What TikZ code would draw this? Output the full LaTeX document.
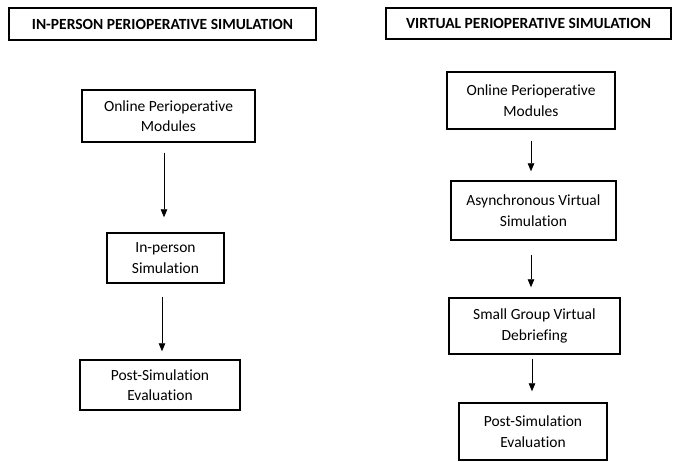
\documentclass[tikz,border=0pt]{standalone}
\usepackage{fontspec}
\setmainfont[Ligatures=NoCommon]{Carlito}
\usetikzlibrary{arrows.meta}
\begin{document}
\begin{tikzpicture}[x=1pt,y=-1pt,
  box/.style={draw, line width=1.4pt, inner sep=0pt, align=center,
    font=\fontsize{15.5}{20.5}\selectfont},
  titlebox/.style={box, font=\fontsize{15.5}{20}\selectfont\bfseries},
  arr/.style={line width=0.8pt, -{Triangle[width=6.5pt,length=8pt]}}]
\useasboundingbox (0,0) rectangle (673,462);
% left column
\node[titlebox, minimum width=307pt, minimum height=32pt] (T1) at (162.5,24) {IN-PERSON PERIOPERATIVE SIMULATION};
\node[box, minimum width=173pt, minimum height=52pt] (L1) at (168.5,116) {Online Perioperative\\Modules};
\node[box, minimum width=117pt, minimum height=50pt] (L2) at (165.5,258) {In-person\\Simulation};
\node[box, minimum width=160pt, minimum height=50pt] (L3) at (160,385) {Post-Simulation\\Evaluation};
\draw[arr] ([xshift=-4.5pt,yshift=-10pt]L1.south) -- ([xshift=-1.5pt,yshift=15pt]L2.north);
\draw[arr] ([xshift=-3.5pt,yshift=-13pt]L2.south) -- ([xshift=2pt,yshift=8pt]L3.north);
% right column
\node[titlebox, minimum width=285pt, minimum height=31pt] (T2) at (528.5,23.5) {VIRTUAL PERIOPERATIVE SIMULATION};
\node[box, minimum width=168pt, minimum height=57pt] (R1) at (531,100.5) {Online Perioperative\\Modules};
\node[box, minimum width=165pt, minimum height=59pt] (R2) at (533.5,210.5) {Asynchronous Virtual\\Simulation};
\node[box, minimum width=171pt, minimum height=56pt] (R3) at (534.5,326) {Small Group Virtual\\Debriefing};
\node[box, minimum width=148pt, minimum height=57pt] (R4) at (533,431.5) {Post-Simulation\\Evaluation};
\draw[arr] ([xshift=0pt,yshift=-11pt]R1.south) -- ([xshift=-2.5pt,yshift=9pt]R2.north);
\draw[arr] ([xshift=-2.5pt,yshift=-14pt]R2.south) -- ([xshift=-3.5pt,yshift=10pt]R3.north);
\draw[arr] ([xshift=-2.5pt,yshift=-4pt]R3.south) -- ([xshift=-1pt,yshift=11pt]R4.north);
\end{tikzpicture}
\end{document}
